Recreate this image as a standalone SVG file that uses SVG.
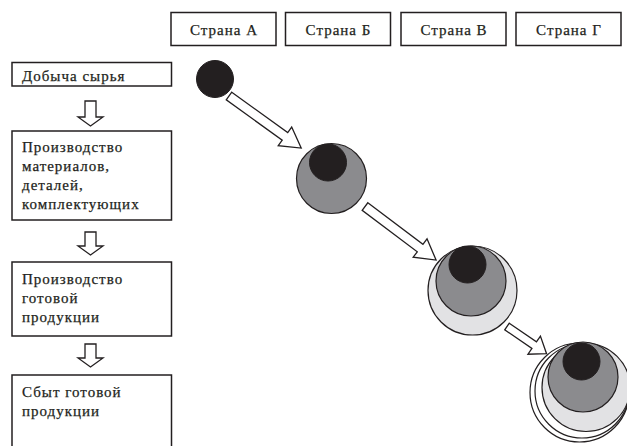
<svg xmlns="http://www.w3.org/2000/svg" width="627" height="446" viewBox="0 0 627 446">
  <style>
    .box { fill: #ffffff; stroke: #231f20; stroke-width: 1.5; }
    .lbl { font-family: 'Liberation Serif', 'DejaVu Serif', serif; font-size: 15px; letter-spacing: 1px; fill: #231f20; stroke: #231f20; stroke-width: 0.25; }
    .hdr { text-anchor: middle; }
    .arrow { fill: #ffffff; stroke: #231f20; stroke-width: 1.3; stroke-linejoin: miter; }
    .c-white { fill: #ffffff; stroke: #231f20; stroke-width: 1.2; }
    .c-light { fill: #e2e2e4; stroke: #231f20; stroke-width: 1.2; }
    .c-mid { fill: #8b8b8e; stroke: #231f20; stroke-width: 1.2; }
    .c-dark { fill: #231f20; stroke: #231f20; stroke-width: 1; }
  </style>
  <defs>
    <!-- long diagonal hollow arrow, pointing along +x -->
    <polygon id="diagLong" points="0,-4.7 69,-4.7 69,-11.5 89,0 69,11.5 69,4.7 0,4.7"/>
    <!-- short diagonal hollow arrow -->
    <polygon id="diagShort" points="0,-4 33,-4 33,-11 48,0 33,11 33,4 0,4"/>
  </defs>

  <rect width="627" height="446" fill="#ffffff"/>

  <!-- country headers -->
  <g id="country-a">
    <rect class="box" x="171" y="12.5" width="105" height="33"/>
    <text class="lbl hdr" x="224" y="35" font-family="Liberation Serif, serif">Страна А</text>
  </g>
  <g id="country-b">
    <rect class="box" x="285.5" y="12.5" width="105" height="33"/>
    <text class="lbl hdr" x="338.5" y="35" font-family="Liberation Serif, serif">Страна Б</text>
  </g>
  <g id="country-v">
    <rect class="box" x="401" y="12.5" width="105" height="33"/>
    <text class="lbl hdr" x="454" y="35" font-family="Liberation Serif, serif">Страна В</text>
  </g>
  <g id="country-g">
    <rect class="box" x="516" y="12.5" width="105" height="33"/>
    <text class="lbl hdr" x="569" y="35" font-family="Liberation Serif, serif">Страна Г</text>
  </g>

  <!-- production stages -->
  <g id="stage-raw" font-family="Liberation Serif, serif">
    <rect class="box" x="12" y="62.5" width="159.5" height="23.5"/>
    <text class="lbl" x="22" y="81">Добыча сырья</text>
  </g>
  <g id="stage-parts" font-family="Liberation Serif, serif">
    <rect class="box" x="12" y="131" width="159.5" height="89"/>
    <text class="lbl" x="22" y="152">Производство</text>
    <text class="lbl" x="22" y="171">материалов,</text>
    <text class="lbl" x="22" y="190">деталей,</text>
    <text class="lbl" x="22" y="209">комплектующих</text>
  </g>
  <g id="stage-final" font-family="Liberation Serif, serif">
    <rect class="box" x="12" y="262" width="159.5" height="74"/>
    <text class="lbl" x="22" y="284">Производство</text>
    <text class="lbl" x="22" y="303">готовой</text>
    <text class="lbl" x="22" y="322">продукции</text>
  </g>
  <g id="stage-sales" font-family="Liberation Serif, serif">
    <rect class="box" x="12" y="375" width="159.5" height="90"/>
    <text class="lbl" x="22" y="397">Сбыт готовой</text>
    <text class="lbl" x="22" y="416">продукции</text>
  </g>

  <!-- growth stages per country -->
  <g id="circle-a">
    <circle class="c-dark" cx="215" cy="79" r="18.5"/>
  </g>
  <g id="circle-b">
    <circle class="c-mid" cx="331.5" cy="178.5" r="35"/>
    <circle class="c-dark" cx="328" cy="162.5" r="18.5"/>
  </g>
  <g id="circle-v">
    <circle class="c-light" cx="472.5" cy="290.5" r="44.5"/>
    <circle class="c-mid" cx="471" cy="281" r="35"/>
    <circle class="c-dark" cx="467.5" cy="264.5" r="18.5"/>
  </g>
  <g id="circle-g">
    <circle class="c-white" cx="579.5" cy="392.5" r="49.5"/>
    <circle class="c-white" cx="582" cy="391" r="47"/>
    <circle class="c-light" cx="586" cy="387.5" r="44"/>
    <circle class="c-mid" cx="583" cy="377" r="35"/>
    <circle class="c-dark" cx="581.5" cy="361.5" r="18.5"/>
  </g>

  <!-- connectors -->
  <g id="connectors">
    <polygon class="arrow" points="85,101 96,101 96,117 103,117 90.5,126 78,117 85,117"/>
    <polygon class="arrow" points="85,232 96,232 96,246 103,246 90.5,255 78,246 85,246"/>
    <polygon class="arrow" points="85,344 96,344 96,358 103,358 90.5,367 78,358 85,358"/>
    <use class="arrow" href="#diagLong" transform="translate(229,96) rotate(35.8)"/>
    <use class="arrow" href="#diagLong" transform="translate(365,206.5) rotate(37)"/>
    <use class="arrow" href="#diagShort" transform="translate(507,326.5) rotate(34.5)"/>
  </g>
</svg>
